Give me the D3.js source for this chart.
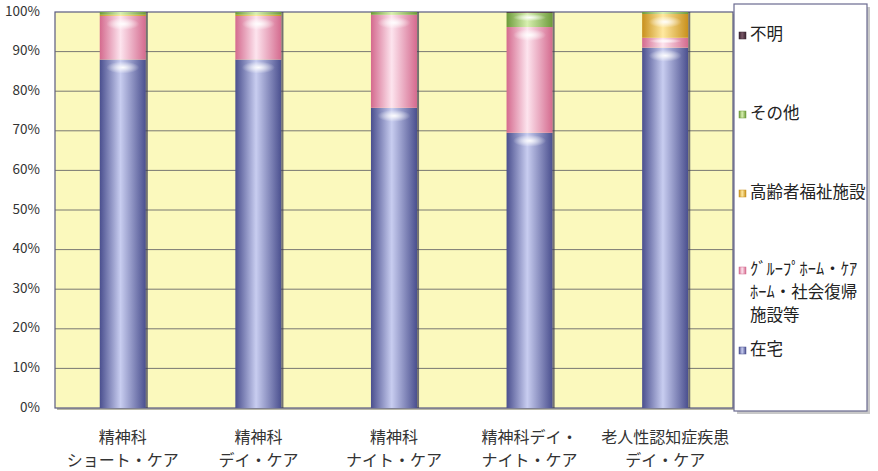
<!DOCTYPE html>
<html>
<head>
<meta charset="utf-8">
<script src="https://cdn.jsdelivr.net/npm/d3@7"></script>
<style>
  body { margin: 0; background: #fff; }
  text { font-family: "Noto Sans CJK JP", "Noto Sans", sans-serif; }
</style>
</head>
<body>
<div id="chart"></div>
<script>
const categories = [
  ["精神科", "ショート・ケア"],
  ["精神科", "デイ・ケア"],
  ["精神科", "ナイト・ケア"],
  ["精神科デイ・", "ナイト・ケア"],
  ["老人性認知症疾患", "デイ・ケア"]
];
const seriesNames = ["在宅", "グループホーム・ケアホーム・社会復帰施設等", "高齢者福祉施設", "その他", "不明"];
const zaitaku = [88, 88, 75.8, 69.5, 91];
const groupHome = [11, 11, 23.5, 26.7, 2.5];
const koureisha = [0.3, 0.3, 0, 0, 6];
const sonota = [0.7, 0.7, 0.7, 3.6, 0.5];
const fumei = [0, 0, 0, 0.2, 0];
const yTicks = [0, 10, 20, 30, 40, 50, 60, 70, 80, 90, 100];

const seriesValues = [zaitaku, groupHome, koureisha, sonota, fumei];
const colors = [
  ["#4a4f8e", "#c8cdf0"],
  ["#d46a8e", "#fde4ee"],
  ["#c8901c", "#ffe9a0"],
  ["#6c9a3a", "#d8f0b0"],
  ["#3a2430", "#7a5868"]
];

const W = 878, H = 471;
const plot = { left: 55, right: 733, top: 12, bottom: 408 };

const svg = d3.select("#chart").append("svg")
  .attr("width", W).attr("height", H);

const defs = svg.append("defs");
colors.forEach((c, i) => {
  const g = defs.append("linearGradient").attr("id", "grad" + i)
    .attr("x1", "0%").attr("x2", "100%").attr("y1", "0%").attr("y2", "0%");
  g.append("stop").attr("offset", "0%").attr("stop-color", c[0]);
  g.append("stop").attr("offset", "45%").attr("stop-color", c[1]);
  g.append("stop").attr("offset", "100%").attr("stop-color", c[0]);
});
const hl = defs.append("radialGradient").attr("id", "hl");
hl.append("stop").attr("offset", "0%").attr("stop-color", "#fff").attr("stop-opacity", 0.95);
hl.append("stop").attr("offset", "100%").attr("stop-color", "#fff").attr("stop-opacity", 0);

const x = d3.scaleBand().domain(d3.range(categories.length))
  .range([plot.left, plot.right]).paddingInner(0.66).paddingOuter(0.33);
const y = d3.scaleLinear().domain([0, 100]).range([plot.bottom, plot.top]);

// plot background
svg.append("rect")
  .attr("x", plot.left + 2).attr("y", plot.top + 2)
  .attr("width", plot.right - plot.left).attr("height", plot.bottom - plot.top)
  .attr("fill", "#b8b8a8");
svg.append("rect")
  .attr("x", plot.left).attr("y", plot.top)
  .attr("width", plot.right - plot.left).attr("height", plot.bottom - plot.top)
  .attr("fill", "#fbf9bd").attr("stroke", "#5a5a80").attr("stroke-width", 1.2);

// gridlines
svg.append("g").selectAll("line")
  .data(yTicks.filter(d => d > 0 && d < 100))
  .join("line")
  .attr("x1", plot.left).attr("x2", plot.right)
  .attr("y1", d => y(d)).attr("y2", d => y(d))
  .attr("stroke", "#6a6a6a").attr("stroke-width", 0.9);

// y labels
svg.append("g").selectAll("text")
  .data(yTicks)
  .join("text")
  .attr("x", 40).attr("y", d => y(d))
  .attr("text-anchor", "end").attr("dominant-baseline", "middle")
  .style("font-size", "13.5px").style("fill", "#333")
  .text(d => d + "%");

// stacked bars
const stackData = categories.map((c, i) => {
  const o = { i };
  seriesValues.forEach((s, k) => o["s" + k] = s[i]);
  return o;
});
const stack = d3.stack().keys(seriesValues.map((s, k) => "s" + k));
const layers = stack(stackData);

const bw = x.bandwidth();
layers.forEach((layer, k) => {
  const g = svg.append("g");
  g.selectAll("rect")
    .data(layer.filter(d => d[1] - d[0] > 0))
    .join("rect")
    .attr("x", d => x(d.data.i))
    .attr("y", d => y(d[1]))
    .attr("width", bw)
    .attr("height", d => y(d[0]) - y(d[1]))
    .attr("fill", `url(#grad${k})`);
  // highlight near top of each segment
  g.selectAll("ellipse")
    .data(layer.filter(d => y(d[0]) - y(d[1]) > 6))
    .join("ellipse")
    .attr("cx", d => x(d.data.i) + bw / 2)
    .attr("cy", d => y(d[1]) + Math.min(8, (y(d[0]) - y(d[1])) / 3))
    .attr("rx", bw * 0.36)
    .attr("ry", d => Math.min(6, (y(d[0]) - y(d[1])) / 4))
    .attr("fill", "url(#hl)");
});
// bar shadow edge
svg.append("g").selectAll("rect")
  .data(stackData)
  .join("rect")
  .attr("x", d => x(d.i) + bw).attr("y", y(100))
  .attr("width", 2).attr("height", y(0) - y(100))
  .attr("fill", "#3a3a50").attr("opacity", 0.7);

// x labels
const xl = svg.append("g").selectAll("text")
  .data(categories)
  .join("text")
  .attr("x", (d, i) => x(i) + bw / 2)
  .attr("text-anchor", "middle")
  .style("font-size", "16px").style("fill", "#333");
xl.append("tspan").attr("x", (d, i) => x(i) + bw / 2).attr("y", 443).text(d => d[0]);
xl.append("tspan").attr("x", (d, i) => x(i) + bw / 2).attr("y", 466).text(d => d[1]);

// legend
const lg = svg.append("g");
lg.append("rect").attr("x", 737).attr("y", 7).attr("width", 133).attr("height", 407).attr("fill", "#c8c8c8");
lg.append("rect").attr("x", 734).attr("y", 4).attr("width", 133).attr("height", 407)
  .attr("fill", "#fff").attr("stroke", "#6a6a90").attr("stroke-width", 1.2);

const legendItems = [
  { k: 4, y: 36, lines: ["不明"] },
  { k: 3, y: 115, lines: ["その他"] },
  { k: 2, y: 194, lines: ["高齢者福祉施設"] },
  { k: 1, y: 271, lines: ["ｸﾞﾙｰﾌﾟﾎｰﾑ・ｹｱ", "ﾎｰﾑ・社会復帰", "施設等"] },
  { k: 0, y: 351, lines: ["在宅"] }
];
legendItems.forEach(it => {
  lg.append("rect").attr("x", 739).attr("y", it.y - 4).attr("width", 7).attr("height", 7)
    .attr("fill", `url(#grad${it.k})`).attr("stroke", colors[it.k][0]).attr("stroke-width", 0.5);
  const t = lg.append("text").style("font-size", "16.5px").style("fill", "#222");
  it.lines.forEach((l, j) => {
    t.append("tspan").attr("x", 750).attr("y", it.y + j * 23)
      .attr("dominant-baseline", "middle").text(l);
  });
});
</script>
</body>
</html>
